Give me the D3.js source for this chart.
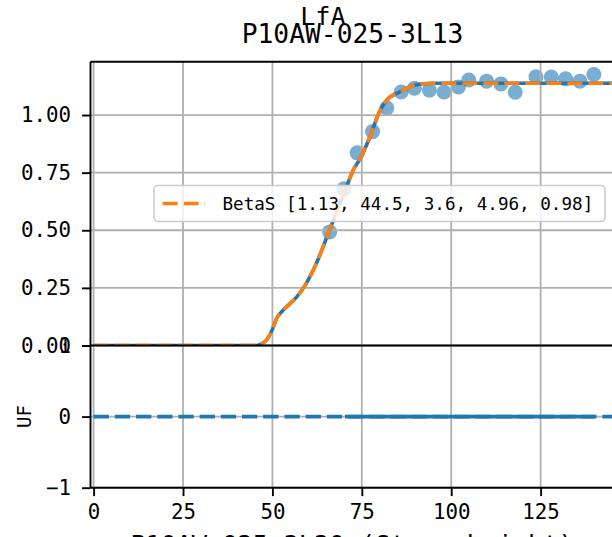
<!DOCTYPE html>
<html>
<head>
<meta charset="utf-8">
<script src="https://cdn.jsdelivr.net/npm/d3@7"></script>
<style>
  html, body { margin: 0; padding: 0; background: #fff; }
  svg { display: block; }
</style>
</head>
<body>
<svg id="chart" width="612" height="537"></svg>
<script>
// ---------- data ----------
const suptitleText = "LfA";
const titleText = "P10AW-025-3L13";
const xLabelText = "P10AW-025-3L20 (Stage height)";
const yLabelBottom = "UF";
const legendLabel = "BetaS [1.13, 44.5, 3.6, 4.96, 0.98]";

const xTicks = [0, 25, 50, 75, 100, 125];
const yTicksTop = [0, 0.25, 0.5, 0.75, 1.0];
const yTickLabelsTop = ["0.00", "0.25", "0.50", "0.75", "1.00"];
const yTicksBottom = [-1, 0, 1];
const yTickLabelsBottom = ["\u22121", "0", "1"];

// observed points (scatter)
const pointX = [66, 70, 73.7, 78, 82, 86, 89.7, 93.9, 98, 102, 104.9, 109.9, 113.9, 117.9, 123.7, 128, 132, 136, 139.9];
const pointY = [0.493, 0.68, 0.836, 0.928, 1.03, 1.10, 1.116, 1.108, 1.1, 1.122, 1.152, 1.147, 1.135, 1.099, 1.166, 1.165, 1.157, 1.147, 1.176];

// fitted curve
const curveX = [0, 45.6, 47, 48.4, 50, 51.2, 52.5, 54, 56.8, 58.7, 60.2, 62.4, 65.6, 68.9, 71, 72.6, 74.5, 77.3, 80.1, 82, 85.7, 89.4, 92.2, 95, 145.5];
const curveY = [0, 0, 0.007, 0.025, 0.07, 0.118, 0.145, 0.168, 0.211, 0.25, 0.29, 0.36, 0.486, 0.617, 0.7, 0.761, 0.81, 0.906, 1.02, 1.065, 1.101, 1.128, 1.136, 1.138, 1.138];

// residual panel
const zeroX = [0, 145.5];
const zeroY = [0, 0];
const residX = [70.3, 140];
const residY = [0, 0];

const xDomain = [-0.87, 145.5];
const yDomainTop = [0, 1.2314];
const yDomainBottom = [-1, 1];

// ---------- layout ----------
const FONT = "'DejaVu Sans Mono', 'Liberation Mono', monospace";
const blue = "#1f77b4", orange = "#ff7f0e", gridC = "#b0b0b0";
const LW = 3.6, GRIDW = 1.8, SPW = 1.9;
const left = 90.5, right = 90.5 + (xDomain[1] - xDomain[0]) * 3.576;
const topT = 61.7, botT = 345.5, botB = 487.7;

const svg = d3.select("#chart");
const x = d3.scaleLinear().domain(xDomain).range([left, right]);
const yT = d3.scaleLinear().domain(yDomainTop).range([botT, topT]);
const yB = d3.scaleLinear().domain(yDomainBottom).range([botB, botT]);

const defs = svg.append("defs");
defs.append("clipPath").attr("id", "clipT").append("rect")
  .attr("x", left).attr("y", topT).attr("width", right - left).attr("height", botT - topT);
defs.append("clipPath").attr("id", "clipB").append("rect")
  .attr("x", left).attr("y", botT).attr("width", right - left).attr("height", botB - botT);

// ---------- top axes ----------
const gT = svg.append("g");
const plotT = gT.append("g").attr("clip-path", "url(#clipT)");

plotT.append("g").selectAll("circle").data(pointX.map((v, i) => [v, pointY[i]])).join("circle")
  .attr("cx", d => x(d[0])).attr("cy", d => yT(d[1])).attr("r", 7.5)
  .attr("fill", blue).attr("fill-opacity", 0.6);

// grid
plotT.append("g").selectAll("line.v").data(xTicks).join("line")
  .attr("x1", d => x(d)).attr("x2", d => x(d)).attr("y1", topT).attr("y2", botT)
  .attr("stroke", gridC).attr("stroke-width", GRIDW);
plotT.append("g").selectAll("line.h").data(yTicksTop).join("line")
  .attr("x1", left).attr("x2", right).attr("y1", d => yT(d)).attr("y2", d => yT(d))
  .attr("stroke", gridC).attr("stroke-width", GRIDW);

const curveData = curveX.map((v, i) => [v, curveY[i]]);
const lineT = d3.line().x(d => x(d[0])).y(d => yT(d[1])).curve(d3.curveMonotoneX);
plotT.append("path").attr("d", lineT(curveData)).attr("fill", "none")
  .attr("stroke", blue).attr("stroke-width", LW);
plotT.append("path").attr("d", lineT(curveData)).attr("fill", "none")
  .attr("stroke", orange).attr("stroke-width", LW).attr("stroke-dasharray", "15,6");

// y axis top
const axT = d3.axisLeft(yT).tickValues(yTicksTop).tickFormat((d, i) => yTickLabelsTop[i])
  .tickSize(8.4).tickPadding(11);
const axTg = gT.append("g").attr("transform", `translate(${left},0)`).call(axT);
axTg.select(".domain").remove();
axTg.selectAll(".tick line").attr("stroke", "#000").attr("stroke-width", SPW);
axTg.selectAll(".tick text").attr("font-family", FONT).attr("font-size", 20.8).attr("fill", "#000");

// spines top
gT.append("line").attr("x1", left).attr("x2", left).attr("y1", topT).attr("y2", botT)
  .attr("stroke", "#000").attr("stroke-width", SPW);
gT.append("line").attr("x1", left).attr("x2", right).attr("y1", topT).attr("y2", topT)
  .attr("stroke", "#000").attr("stroke-width", SPW);

// legend
const lg = gT.append("g");
lg.append("rect").attr("x", 154).attr("y", 185.5).attr("width", 451).attr("height", 36)
  .attr("rx", 4).attr("fill", "#fff").attr("fill-opacity", 0.8)
  .attr("stroke", "#cccccc").attr("stroke-width", 1.6);
lg.append("line").attr("x1", 162.7).attr("x2", 205).attr("y1", 203.5).attr("y2", 203.5)
  .attr("stroke", orange).attr("stroke-width", LW).attr("stroke-dasharray", "15,6");
lg.append("text").attr("x", 222.5).attr("y", 203.5).attr("dominant-baseline", "central")
  .attr("font-family", FONT).attr("font-size", 17.6).text(legendLabel);

// ---------- bottom axes ----------
const gB = svg.append("g");
const plotB = gB.append("g").attr("clip-path", "url(#clipB)");
plotB.append("g").selectAll("line.v").data(xTicks).join("line")
  .attr("x1", d => x(d)).attr("x2", d => x(d)).attr("y1", botT).attr("y2", botB)
  .attr("stroke", gridC).attr("stroke-width", GRIDW);
plotB.append("g").selectAll("line.h").data(yTicksBottom).join("line")
  .attr("x1", left).attr("x2", right).attr("y1", d => yB(d)).attr("y2", d => yB(d))
  .attr("stroke", gridC).attr("stroke-width", GRIDW);

const lineB = d3.line().x(d => x(d[0])).y(d => yB(d[1]));
plotB.append("path").attr("d", lineB(zeroX.map((v, i) => [v, zeroY[i]]))).attr("fill", "none")
  .attr("stroke", blue).attr("stroke-width", LW).attr("stroke-dasharray", "15.3,5.9");
plotB.append("path").attr("d", lineB(residX.map((v, i) => [v, residY[i]]))).attr("fill", "none")
  .attr("stroke", blue).attr("stroke-width", LW);

const axB = d3.axisLeft(yB).tickValues(yTicksBottom).tickFormat((d, i) => yTickLabelsBottom[i])
  .tickSize(8.4).tickPadding(11);
const axBg = gB.append("g").attr("transform", `translate(${left},0)`).call(axB);
axBg.select(".domain").remove();
axBg.selectAll(".tick line").attr("stroke", "#000").attr("stroke-width", SPW);
axBg.selectAll(".tick text").attr("font-family", FONT).attr("font-size", 20.8).attr("fill", "#000");

const axX = d3.axisBottom(x).tickValues(xTicks).tickFormat(d3.format("d"))
  .tickSize(8.4).tickPadding(8);
const axXg = gB.append("g").attr("transform", `translate(0,${botB})`).call(axX);
axXg.select(".domain").remove();
axXg.selectAll(".tick line").attr("stroke", "#000").attr("stroke-width", SPW);
axXg.selectAll(".tick text").attr("font-family", FONT).attr("font-size", 20.8).attr("fill", "#000");

// spines bottom
gB.append("line").attr("x1", left).attr("x2", left).attr("y1", botT).attr("y2", botB)
  .attr("stroke", "#000").attr("stroke-width", SPW);
gB.append("line").attr("x1", left).attr("x2", right).attr("y1", botT).attr("y2", botT)
  .attr("stroke", "#000").attr("stroke-width", SPW);
gB.append("line").attr("x1", left).attr("x2", right).attr("y1", botB).attr("y2", botB)
  .attr("stroke", "#000").attr("stroke-width", SPW);

// labels
svg.append("text").attr("transform", `translate(23.5,416.5) rotate(-90)`)
  .attr("text-anchor", "middle").attr("dominant-baseline", "central")
  .attr("font-family", FONT).attr("font-size", 19).text(yLabelBottom);
svg.append("text").attr("x", (left + right) / 2).attr("y", 552.5)
  .attr("text-anchor", "middle").attr("font-family", FONT).attr("font-size", 25.4).text(xLabelText);
svg.append("text").attr("x", 352.5).attr("y", 43.3)
  .attr("text-anchor", "middle").attr("font-family", FONT).attr("font-size", 26.3).text(titleText);
svg.append("text").attr("x", 323).attr("y", 25)
  .attr("text-anchor", "middle").attr("font-family", FONT).attr("font-size", 25.3).text(suptitleText);
</script>
</body>
</html>
